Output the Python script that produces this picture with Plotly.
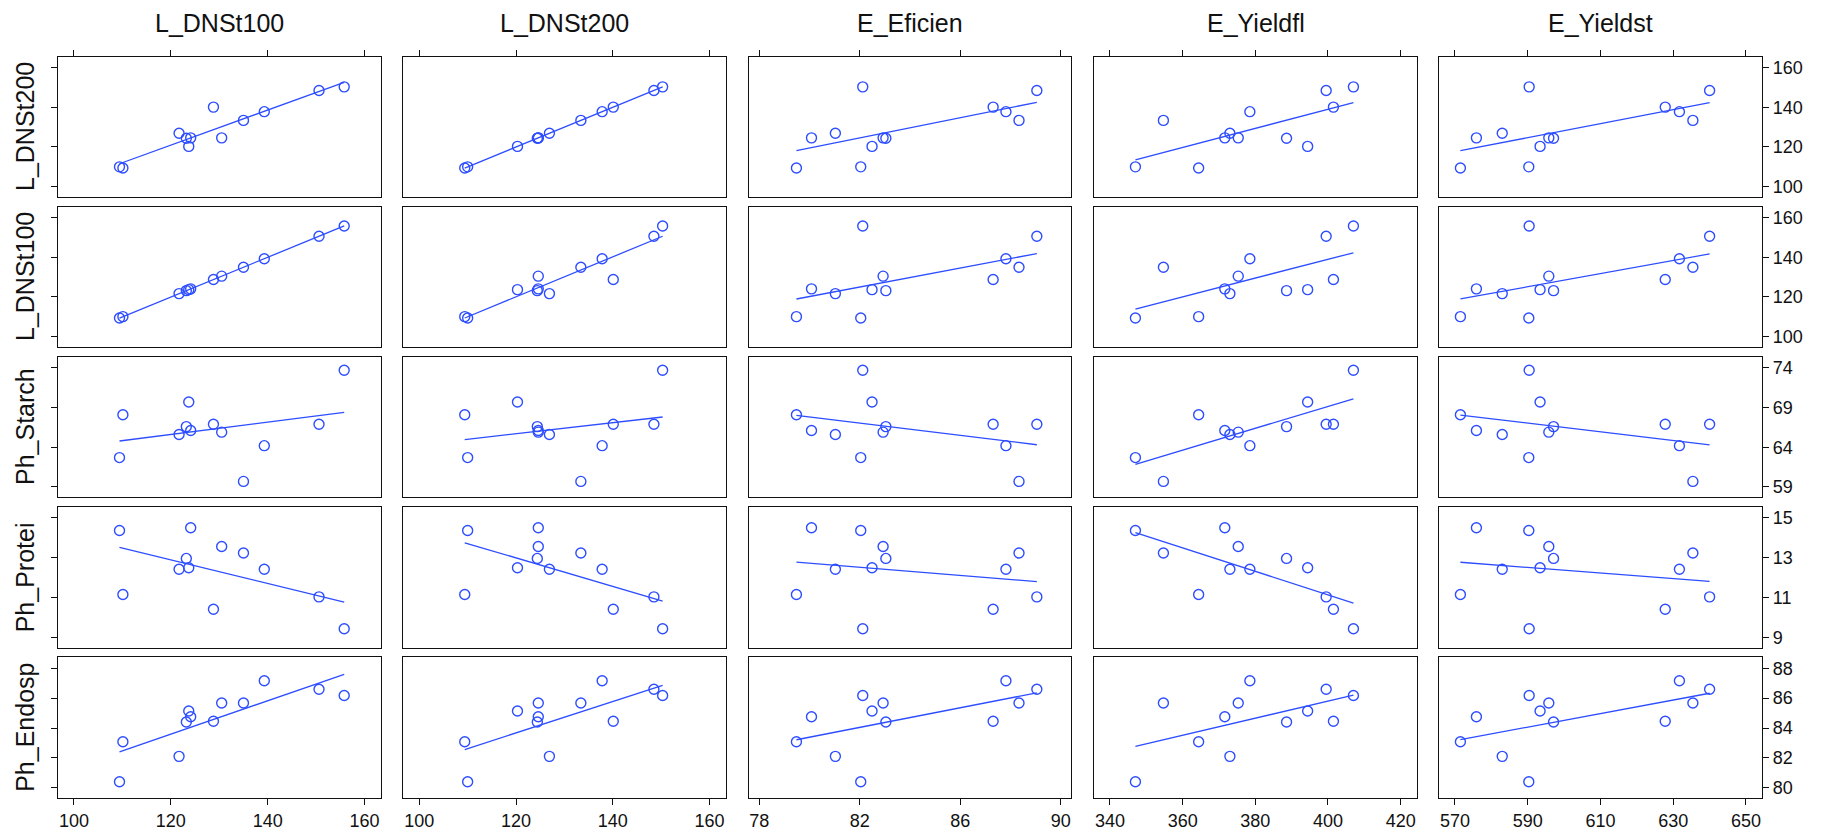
import numpy as np
import plotly.graph_objects as go

# Observations (12 lines/entries), one list per trait
l_dnst100 = [109.4, 110.1, 121.7, 123.2, 123.7, 124.1, 128.8, 130.5, 135.0, 139.3, 150.6, 155.8]
l_dnst200 = [110.0, 109.4, 126.9, 124.4, 120.3, 124.6, 140.1, 124.6, 133.4, 137.8, 148.5, 150.3]
e_eficien = [82.04, 79.48, 81.03, 83.04, 82.49, 80.08, 87.31, 82.93, 88.34, 87.82, 89.05, 82.12]
e_yieldfl = [347.0, 364.4, 373.0, 388.6, 394.4, 371.6, 401.5, 375.3, 354.7, 378.5, 399.5, 407.0]
e_yieldst = [590.3, 571.5, 583.0, 597.1, 593.4, 575.9, 627.8, 595.8, 635.4, 631.7, 640.0, 590.4]
ph_starch = [62.7, 68.1, 65.6, 66.6, 69.7, 66.1, 66.9, 65.9, 59.7, 64.2, 66.9, 73.7]
ph_protei = [14.36, 11.15, 12.42, 12.96, 12.49, 14.5, 10.41, 13.56, 13.23, 12.42, 11.03, 9.43]
ph_endosp = [80.4, 83.08, 82.1, 84.4, 85.14, 84.76, 84.45, 85.68, 85.68, 87.17, 86.6, 86.18]

x_names = ["L_DNSt100", "L_DNSt200", "E_Eficien", "E_Yieldfl", "E_Yieldst"]
y_names = ["L_DNSt200", "L_DNSt100", "Ph_Starch", "Ph_Protei", "Ph_Endosp"]
x_data = [l_dnst100, l_dnst200, e_eficien, e_yieldfl, e_yieldst]
y_data = [l_dnst200, l_dnst100, ph_starch, ph_protei, ph_endosp]

x_ticks = [[100, 120, 140, 160], [100, 120, 140, 160], [78, 82, 86, 90],
           [340, 360, 380, 400, 420], [570, 590, 610, 630, 650]]
y_ticks = [[100, 120, 140, 160], [100, 120, 140, 160], [59, 64, 69, 74],
           [9, 11, 13, 15], [80, 82, 84, 86, 88]]

x_ranges = [(96.7, 163.4), (96.7, 163.4), (77.58, 90.41), (335.6, 424.5), (565.7, 654.4)]
y_ranges = [(94.65, 165.5), (94.65, 165.5), (57.7, 75.4), (8.48, 15.54), (79.29, 88.74)]

W, H = 1830, 836
col_px = [(58, 381), (403.3, 726), (748.7, 1071), (1094, 1417), (1439.3, 1762)]
row_px = [(56.7, 197.3), (206.7, 347.3), (356.7, 497.3), (507, 647.7), (657.3, 798.3)]

BLUE = "#2d4dff"
FONT = "Liberation Sans, Arial, sans-serif"

fig = go.Figure()
layout = {}
for r in range(5):
    for c in range(5):
        k = r * 5 + c + 1
        xs = np.array(x_data[c], dtype=float)
        ys = np.array(y_data[r], dtype=float)
        xa = "x" if k == 1 else f"x{k}"
        ya = "y" if k == 1 else f"y{k}"
        fig.add_trace(go.Scatter(
            x=xs, y=ys, mode="markers", xaxis=xa, yaxis=ya,
            marker=dict(symbol="circle-open", size=10, color=BLUE, line=dict(width=1.4, color=BLUE)),
            showlegend=False, hoverinfo="skip"))
        slope, icpt = np.polyfit(xs, ys, 1)
        lx = np.array([xs.min(), xs.max()])
        fig.add_trace(go.Scatter(
            x=lx, y=slope * lx + icpt, mode="lines", xaxis=xa, yaxis=ya,
            line=dict(color=BLUE, width=1.3), showlegend=False, hoverinfo="skip"))

        x0, x1 = col_px[c]
        y0, y1 = row_px[r]
        xkey = "xaxis" if k == 1 else f"xaxis{k}"
        ykey = "yaxis" if k == 1 else f"yaxis{k}"
        xax = dict(domain=[x0 / W, x1 / W], anchor=ya, range=list(x_ranges[c]),
                   showgrid=False, zeroline=False, showline=True, mirror=True,
                   linecolor="#111", linewidth=1.3, tickvals=x_ticks[c],
                   tickfont=dict(family=FONT, size=18, color="#111"))
        if r == 0:
            xax.update(side="top", ticks="outside", ticklen=6, tickwidth=1.2,
                       tickcolor="#111", showticklabels=False)
        elif r == 4:
            xax.update(side="bottom", ticks="outside", ticklen=6, tickwidth=1.2,
                       tickcolor="#111", showticklabels=True)
        else:
            xax.update(ticks="", showticklabels=False)
        yax = dict(domain=[1 - y1 / H, 1 - y0 / H], anchor=xa, range=list(y_ranges[r]),
                   showgrid=False, zeroline=False, showline=True, mirror=True,
                   linecolor="#111", linewidth=1.3, tickvals=y_ticks[r],
                   tickfont=dict(family=FONT, size=18, color="#111"))
        if c == 0:
            yax.update(side="left", ticks="outside", ticklen=6, tickwidth=1.2,
                       tickcolor="#111", showticklabels=False)
        elif c == 4:
            yax.update(side="right", ticks="outside", ticklen=6, tickwidth=1.2,
                       tickcolor="#111", showticklabels=True)
        else:
            yax.update(ticks="", showticklabels=False)
        layout[xkey] = xax
        layout[ykey] = yax

annotations = []
for c, name in enumerate(x_names):
    x0, x1 = col_px[c]
    annotations.append(dict(text=name, x=(x0 + x1) / 2 / W, y=1 - 23 / H,
                            xref="paper", yref="paper", showarrow=False,
                            xanchor="center", yanchor="middle",
                            font=dict(family=FONT, size=25, color="#111")))
for r, name in enumerate(y_names):
    y0, y1 = row_px[r]
    annotations.append(dict(text=name, x=25 / W, y=1 - (y0 + y1) / 2 / H,
                            xref="paper", yref="paper", showarrow=False,
                            textangle=-90, xanchor="center", yanchor="middle",
                            font=dict(family=FONT, size=25, color="#111")))

fig.update_layout(**layout)
fig.update_layout(width=W, height=H, margin=dict(l=0, r=0, t=0, b=0),
                  paper_bgcolor="white", plot_bgcolor="white",
                  annotations=annotations, showlegend=False)

fig.write_html("out.html")
